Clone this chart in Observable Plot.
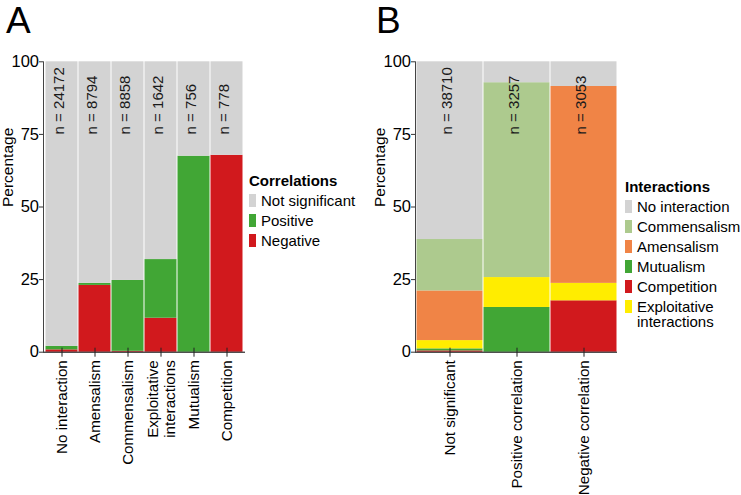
<!DOCTYPE html>
<html><head><meta charset="utf-8">
<script src="https://cdn.jsdelivr.net/npm/d3@7"></script>
<script src="https://cdn.jsdelivr.net/npm/@observablehq/plot@0.6"></script>
<style>
body{margin:0;background:#fff;font-family:"Liberation Sans",Arial,sans-serif;}
#root{position:relative;width:741px;height:495px;overflow:hidden;background:#fff;}
.panel{position:absolute;top:0;}
.letter{position:absolute;font-size:37px;line-height:37px;color:#000;}
.legend{position:absolute;display:flex;flex-direction:column;gap:5px;font-size:15px;line-height:15px;color:#000;}
.legend .t{font-weight:bold;}
.item{display:flex;align-items:flex-start;white-space:pre-line;}
.sw{width:7px;height:13px;margin-top:1px;margin-right:5px;flex:none;}
</style></head>
<body><div id="root"></div>
<script>
// ---------- Panel A data ----------
const catsA = ["No interaction","Amensalism","Commensalism","Exploitative\ninteractions","Mutualism","Competition"];
const nA = [24172, 8794, 8858, 1642, 756, 778];
const negA = [0.8, 23.0, 0.3, 11.7, 0, 67.8];
const posA = [1.2, 0.7, 24.4, 20.2, 67.5, 0];
const nsA  = [98.0, 76.3, 75.3, 68.1, 32.5, 32.2];
const corrLegend = ["Not significant","Positive","Negative"];
const corrColors = ["#d3d3d3","#41a635","#d1191d"];

// ---------- Panel B data ----------
const catsB = ["Not significant","Positive correlation","Negative correlation"];
const nB = [38710, 3257, 3053];
const compB = [0.45, 0, 17.7];
const mutB  = [0.7, 15.4, 0];
const explB = [2.85, 10.3, 6.0];
const amenB = [17.1, 0, 67.8];
const commB = [17.7, 67.1, 0];
const noneB = [61.2, 7.2, 8.5];
const interLegend = ["No interaction","Commensalism","Amensalism","Mutualism","Competition","Exploitative interactions"];
const interLegendText = ["No interaction","Commensalism","Amensalism","Mutualism","Competition","Exploitative\ninteractions"];
const interColors = ["#d3d3d3","#adca8e","#f08446","#41a635","#d1191d","#ffed00"];
const yTicks = [0, 25, 50, 75, 100];

// stacks, bottom -> top
const stackA = [["Negative", negA], ["Positive", posA], ["Not significant", nsA]];
const stackB = [["Competition", compB], ["Mutualism", mutB], ["Exploitative interactions", explB],
                ["Amensalism", amenB], ["Commensalism", commB], ["No interaction", noneB]];

function rowsOf(cats, stack) {
  const rows = [];
  cats.forEach((c, i) => stack.forEach(([g, vals]) => rows.push({cat: c, group: g, value: vals[i]})));
  return rows;
}

const FONT = '"Liberation Sans", Arial, sans-serif';

function panel({cats, stack, ns, legendDomain, colors, width, ml, mr}) {
  return Plot.plot({
    width, height: 495,
    marginTop: 61.3, marginBottom: 143.3, marginLeft: ml, marginRight: mr,
    style: {fontFamily: FONT, fontSize: "15px", color: "#000", background: "transparent", overflow: "visible"},
    x: {domain: cats, padding: 0, label: null},
    y: {domain: [0, 100], label: null},
    color: {domain: legendDomain, range: colors},
    marks: [
      Plot.barY(rowsOf(cats, stack), {x: "cat", y: "value", fill: "group", insetLeft: 0.5, insetRight: 0.5}),
      Plot.text(cats, {x: d => d, y: 75, text: (d, i) => `n = ${ns[i]}`, rotate: -90, textAnchor: "start",
                       fontSize: 15, fill: "#1a1a1a", dx: -2.5}),
      Plot.ruleY([0], {stroke: "#000"}),
      Plot.frame({anchor: "left", stroke: "#444"}),
      Plot.axisY({ticks: yTicks, tickSize: 4, tickPadding: 0.5, fontSize: 16.5, stroke: "#333", label: null}),
      Plot.axisX({tickSize: 9, dy: -4, fill: "none", stroke: "#222", label: null}),
      Plot.axisX({tickSize: 0, tickPadding: 8, tickRotate: -90, fontSize: 15.2, lineHeight: 1.1, label: null}),
      Plot.text(["Percentage"], {frameAnchor: "left", dx: -35, rotate: -90, fontSize: 15.5, text: d => d})
    ]
  });
}

function legend(title, labels, colors, left, top) {
  const div = document.createElement("div");
  div.className = "legend";
  div.style.left = left + "px";
  div.style.top = top + "px";
  const t = document.createElement("div");
  t.className = "t"; t.textContent = title;
  div.appendChild(t);
  labels.forEach((l, i) => {
    const it = document.createElement("div");
    it.className = "item";
    const sw = document.createElement("span");
    sw.className = "sw"; sw.style.background = colors[i];
    const tx = document.createElement("span");
    tx.textContent = l;
    it.appendChild(sw); it.appendChild(tx);
    div.appendChild(it);
  });
  return div;
}

const root = document.getElementById("root");

const pA = panel({cats: catsA, stack: stackA, ns: nA, legendDomain: corrLegend, colors: corrColors, width: 370, ml: 43, mr: 125});
pA.classList.add("panel"); pA.style.left = "0px";
root.appendChild(pA);

const pB = panel({cats: catsB, stack: stackB, ns: nB, legendDomain: interLegend, colors: interColors, width: 371, ml: 45, mr: 124});
pB.classList.add("panel"); pB.style.left = "370px";
root.appendChild(pB);

root.appendChild(legend("Correlations", corrLegend, corrColors, 249, 172.5));
root.appendChild(legend("Interactions", interLegendText, interColors, 625, 178.5));

[["A", 6], ["B", 376]].forEach(([s, x]) => {
  const d = document.createElement("div");
  d.className = "letter"; d.textContent = s;
  d.style.left = x + "px"; d.style.top = "1.5px";
  root.appendChild(d);
});
</script>
</body></html>
